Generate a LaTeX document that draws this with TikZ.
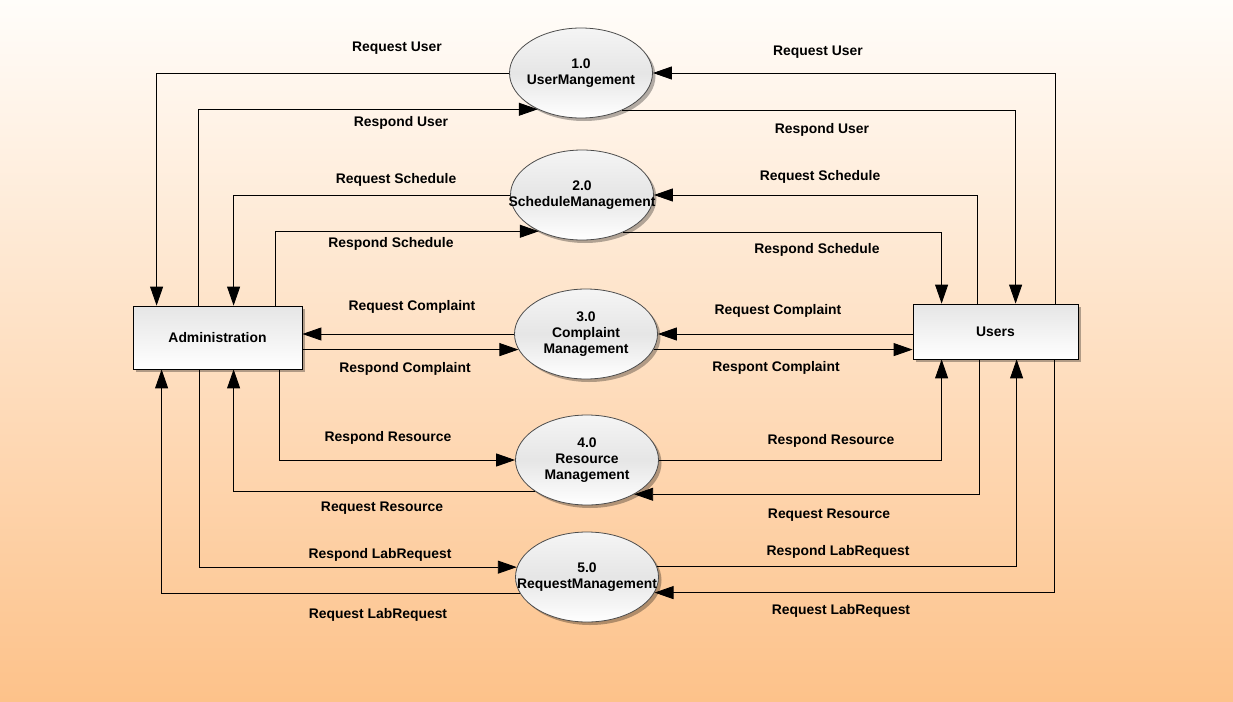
\documentclass[tikz,border=0pt]{standalone}
\usepackage{fontspec}
\setmainfont{Liberation Sans}
\usepackage{tikz}
\usetikzlibrary{arrows.meta,shapes.geometric,shadows}

\definecolor{bgtop}{RGB}{255,253,250}
\definecolor{bgbot}{RGB}{253,194,138}

\tikzset{
  proc/.style={ellipse, draw=black!70, line width=0.8pt, align=center,
    minimum width=143pt, minimum height=90pt, inner xsep=-28pt, inner ysep=0pt,
    top color=gray!8, bottom color=white, middle color=gray!20,
    drop shadow={shadow xshift=3pt,shadow yshift=-3pt,opacity=0.3,fill=black}},
  entity/.style={rectangle, draw=black, line width=0.8pt,
    top color=gray!20, bottom color=white,
    drop shadow={shadow xshift=3pt,shadow yshift=-3pt,opacity=0.3,fill=black}},
  hv/.style={to path={-| (\tikztotarget)}},
  vh/.style={to path={|- (\tikztotarget)}}
}

\begin{document}
\begin{tikzpicture}[x=1pt,y=-1pt,font=\bfseries\fontsize{13.9}{15.8}\selectfont,
    >={Triangle[length=19pt,width=13pt]}]
	\fill[top color=bgtop, bottom color=bgbot] (0,0) rectangle (1233,701);
	%
	\node[entity, minimum width=169pt, minimum height=63pt] (adm) at (217.5,337.5) {Administration};
	\node[entity, minimum width=165pt, minimum height=55pt] (usr) at (995.5,331.5) {Users};
	\node[proc] (p1) at (581,73) {1.0\\UserMangement};
	\node[proc] (p2) at (582,195) {2.0\\ScheduleManagement};
	\node[proc] (p3) at (586,334) {3.0\\Complaint\\Management};
	\node[proc] (p4) at (587,460) {4.0\\Resource\\Management};
	\node[proc] (p5) at (587,577) {5.0\\RequestManagement};
	%
	\path[->,line width=0.9pt]
	(p1.west) edge[hv] ([xshift=24pt]adm.north west)
	([xshift=66pt]adm.north west) edge[vh] (p1.220)
	([xshift=143pt]usr.north west) edge[vh] (p1.east)
	(p1.318) edge[hv] ([xshift=103pt]usr.north west)
	(p2.west) edge[hv] ([xshift=101pt]adm.north west)
	([xshift=143pt]adm.north west) edge[vh] (p2.220)
	([xshift=65pt]usr.north west) edge[vh] (p2.east)
	(p2.318) edge[hv] ([xshift=29pt]usr.north west)
	(p3.west) edge (adm.east |- p3.west)
	(adm.east |- p3.193) edge (p3.193)
	(usr.west |- p3.east) edge (p3.east)
	(p3.347) edge (usr.west |- p3.347)
	([xshift=147pt]adm.south west) edge[vh] (p4.west)
	(p4.211) edge[hv] ([xshift=101pt]adm.south west)
	(p4.east) edge[hv] ([xshift=29pt]usr.south west)
	([xshift=67pt]usr.south west) edge[vh] (p4.324)
	([xshift=67pt]adm.south west) edge[vh] (p5.172)
	(p5.194) edge[hv] ([xshift=29pt]adm.south west)
	(p5.9) edge[hv] ([xshift=104pt]usr.south west)
	([xshift=142pt]usr.south west) edge[vh] (p5.347);
	%
	\node (l1) at (397,48) {Request User};
	\node (l2) at (401,123) {Respond User};
	\node (l3) at (396,180) {Request Schedule};
	\node (l4) at (391,244) {Respond Schedule};
	\node (l5) at (412,307) {Request Complaint};
	\node (l6) at (405,369) {Respond Complaint};
	\node (l7) at (388,438) {Respond Resource};
	\node (l8) at (382,508) {Request Resource};
	\node (l9) at (380,555) {Respond LabRequest};
	\node (l10) at (378,615) {Request LabRequest};
	\node (r1) at (818,52) {Request User};
	\node (r2) at (822,130) {Respond User};
	\node (r3) at (820,177) {Request Schedule};
	\node (r4) at (817,250) {Respond Schedule};
	\node (r5) at (778,311) {Request Complaint};
	\node (r6) at (776,368) {Respont Complaint};
	\node (r7) at (831,441) {Respond Resource};
	\node (r8) at (829,515) {Request Resource};
	\node (r9) at (838,552) {Respond LabRequest};
	\node (r10) at (841,611) {Request LabRequest};
\end{tikzpicture}
\end{document}
